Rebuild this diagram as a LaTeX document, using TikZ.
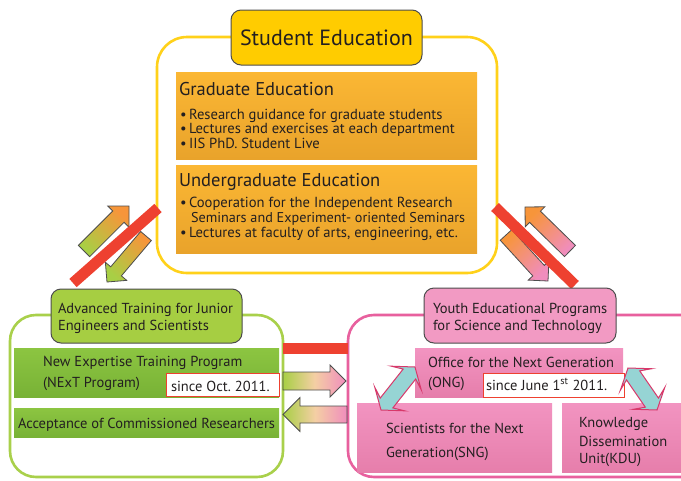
\documentclass[tikz,border=0pt]{standalone}
\usepackage{fontspec}
\setmainfont{PT Sans}
\usetikzlibrary{calc}

\definecolor{ink}{HTML}{231F20}
\definecolor{edge}{HTML}{4D4D4D}
\definecolor{yline}{HTML}{FFD11A}
\definecolor{ytitle}{HTML}{FFCC00}
\definecolor{otop}{HTML}{FBB734}
\definecolor{obot}{HTML}{E9A32B}
\definecolor{gline}{HTML}{A9D04B}
\definecolor{gtitle}{HTML}{A6CE42}
\definecolor{gtop}{HTML}{8CC541}
\definecolor{gbot}{HTML}{78B236}
\definecolor{pline}{HTML}{E8609E}
\definecolor{ptitle}{HTML}{F29AC3}
\definecolor{ptop}{HTML}{F294C1}
\definecolor{pbot}{HTML}{E67EAB}
\definecolor{barred}{HTML}{EE4130}
\definecolor{aqua}{HTML}{96D4D4}
\definecolor{aquaedge}{HTML}{D8386A}
\definecolor{agreen}{HTML}{A8CF45}
\definecolor{aorange}{HTML}{F7953A}
\definecolor{apink}{HTML}{F08DBD}
\definecolor{apeach}{HTML}{F4CFA4}

% block arrow: style, tail, tip, name, body half width, head half width, head length
\newcommand\blockarrow[7]{%
  \coordinate (#4-t) at (#2);
  \coordinate (#4-p) at (#3);
  \coordinate (#4-b) at ($(#4-p)!#7pt!(#4-t)$);
  \path[#1] ($(#4-t)!#5pt!90:(#4-p)$) -- ($(#4-b)!#5pt!90:(#4-p)$)
    -- ($(#4-b)!#6pt!90:(#4-p)$) -- (#4-p) -- ($(#4-b)!#6pt!-90:(#4-p)$)
    -- ($(#4-b)!#5pt!-90:(#4-p)$) -- ($(#4-t)!#5pt!-90:(#4-p)$) -- cycle;
}
% double-headed arrow with swept-back barbs: style, end a, end z, name
\newcommand\twowayarrow[4]{%
  \coordinate (#4-a) at (#2);
  \coordinate (#4-z) at (#3);
  \coordinate (#4-a1) at ($(#4-a)!14pt!(#4-z)$);
  \coordinate (#4-a2) at ($(#4-a)!9pt!(#4-z)$);
  \coordinate (#4-z1) at ($(#4-z)!14pt!(#4-a)$);
  \coordinate (#4-z2) at ($(#4-z)!9pt!(#4-a)$);
  \path[#1] (#4-a) -- ($(#4-a1)!19pt!90:(#4-z)$) -- ($(#4-a2)!8pt!90:(#4-z)$)
    -- ($(#4-z2)!8pt!-90:(#4-a)$) -- ($(#4-z1)!19pt!-90:(#4-a)$) -- (#4-z)
    -- ($(#4-z1)!19pt!90:(#4-a)$) -- ($(#4-z2)!8pt!90:(#4-a)$)
    -- ($(#4-a2)!8pt!-90:(#4-z)$) -- ($(#4-a1)!19pt!-90:(#4-z)$) -- cycle;
}

\begin{document}
\begin{tikzpicture}[x=1pt,y=-1pt,
  every node/.style={inner sep=0pt, outer sep=0pt, text=ink},
  box/.style={anchor=north west, minimum width=#1},
  frame/.style={line width=2.6pt, rounded corners=30pt},
  headbox/.style={draw=edge, line width=1pt, rounded corners=10pt},
  orangebox/.style={top color=otop, bottom color=obot},
  greenband/.style={top color=gtop, bottom color=gbot},
  pinkbox/.style={top color=ptop, bottom color=pbot},
  datebox/.style={draw=barred, line width=0.9pt, fill=white, anchor=north west},
  txt/.style={anchor=base west, font=\fontsize{14.5}{17}\selectfont},
  bullet/.style={anchor=base west, font=\fontsize{14.6}{17}\selectfont},
  heading/.style={anchor=base west, font=\fontsize{18.5}{21}\selectfont},
  bigtitle/.style={font=\fontsize{22}{25}\selectfont},
  redbar/.style={draw=barred, line width=11pt},
  diagL/.style={draw=edge, line width=0.8pt, top color=aorange, bottom color=agreen, shading angle=-45},
  diagR/.style={draw=edge, line width=0.8pt, top color=aorange, bottom color=apink, shading angle=45},
  horiz/.style={draw=edge, line width=0.8pt, left color=agreen, right color=apink, middle color=apeach},
  twoway/.style={draw=aquaedge, line width=1pt, fill=aqua, line join=miter}
]
\clip (0,0) rectangle (681,480);
\fill[white] (0,0) rectangle (681,480);

% ---------- Student Education ----------
\draw[frame, draw=yline] (157,37) rectangle (497,273);
\node[box=301pt, minimum height=87pt, orangebox] (grad) at (176,72) {};
\node[box=301pt, minimum height=88pt, orangebox] (ugrad) at (176,165) {};
\node[heading] (gradT) at (179,95) {Graduate Education};
\node[bullet] (g1) at (180,119) {\textbullet\,Research guidance for graduate students};
\node[bullet] (g2) at (180,133.5) {\textbullet\,Lectures and exercises at each department};
\node[bullet] (g3) at (180,148) {\textbullet\,IIS PhD. Student Live};
\node[heading] (ugradT) at (179,186) {Undergraduate Education};
\node[bullet] (u1) at (180,207) {\textbullet\,Cooperation for the Independent Research};
\node[bullet, font=\fontsize{14.2}{17}\selectfont] (u1b) at (191,222) {Seminars and Experiment- oriented Seminars};
\node[bullet] (u2) at (180,237.5) {\textbullet\,Lectures at faculty of arts, engineering, etc.};

% ---------- Advanced Training ----------
\draw[frame, draw=gline, rounded corners=26pt] (10,315) rectangle (283,477);
\node[box=265pt, minimum height=49pt, greenband] (next) at (14,348) {};
\node[box=265pt, minimum height=29pt, greenband] (accept) at (14,408) {};
\node[txt] (n1) at (43,366) {New Expertise Training Program};
\node[txt] (n2) at (43,387) {(NExT Program)};
\node[datebox, minimum width=113pt, minimum height=23pt] (octbox) at (166,373) {};
\node[txt] (oct) at (171,391) {since Oct.\ 2011.};
\node[txt] (acc) at (18,428) {Acceptance of Commissioned Researchers};

% ---------- Youth Educational Programs ----------
\draw[frame, draw=pline, rounded corners=26pt] (348,315) rectangle (720,477);
\node[box=208pt, minimum height=49pt, pinkbox] (ong) at (415,348) {};
\node[box=195pt, minimum height=69pt, pinkbox] (sng) at (357,403) {};
\node[box=130pt, minimum height=69pt, pinkbox] (kdu) at (562,403) {};
\node[txt] (o1) at (428,367) {Office for the Next Generation};
\node[txt] (o2) at (428,387) {(ONG)};
\node[datebox, minimum width=141pt, minimum height=24pt] (junebox) at (483,373) {};
\node[txt] (june) at (486,390) {since June 1\textsuperscript{st} 2011.};
\node[txt] (s1) at (386,433) {Scientists for the Next};
\node[txt] (s2) at (386,457) {Generation(SNG)};
\node[txt] (k1) at (579,427) {Knowledge};
\node[txt] (k2) at (579,446) {Dissemination};
\node[txt] (k3) at (579,463) {Unit(KDU)};

\twowayarrow{twoway}{415,367}{381,410}{ongsng}
\twowayarrow{twoway}{628,368}{657,410}{ongkdu}

% ---------- arrows between the three areas ----------
\blockarrow{diagL}{84,251}{129,206}{upL}{8}{15}{15}
\blockarrow{diagL}{146,236}{107,282}{downL}{7}{14}{14}
\blockarrow{diagR}{570,251}{525,207}{upR}{7.8}{14}{14}
\blockarrow{diagR}{506,235}{548,281}{downR}{7.8}{14}{14}
\blockarrow{horiz}{283,381}{346,381}{toYouth}{9}{16}{16}
\blockarrow{horiz}{347,414.5}{283,414.5}{toTraining}{8.5}{17}{17}

\coordinate (lbarA) at (73,283);
\coordinate (lbarB) at (158,208);
\coordinate (rbarA) at (495,207);
\coordinate (rbarB) at (575,285);
\draw[redbar] (lbarA) -- (lbarB);
\draw[redbar] (rbarA) -- (rbarB);
\fill[barred] (283,343) rectangle (348,354);

% ---------- heading boxes ----------
\node[headbox, fill=ytitle, minimum width=191pt, minimum height=55pt, anchor=north west] (seTitle) at (231,10) {};
\node[bigtitle] at (seTitle.center) {Student Education};
\node[headbox, fill=gtitle, minimum width=191pt, minimum height=54pt, anchor=north west] (atTitle) at (51,289) {};
\node[txt] (at1) at (58,313) {Advanced Training for Junior};
\node[txt] (at2) at (58,330) {Engineers and Scientists};
\node[headbox, fill=ptitle, minimum width=192pt, minimum height=55pt, anchor=north west] (yeTitle) at (424,288) {};
\node[txt] (ye1) at (433,313) {Youth Educational Programs};
\node[txt] (ye2) at (433,330) {for Science and Technology};
\end{tikzpicture}
\end{document}
